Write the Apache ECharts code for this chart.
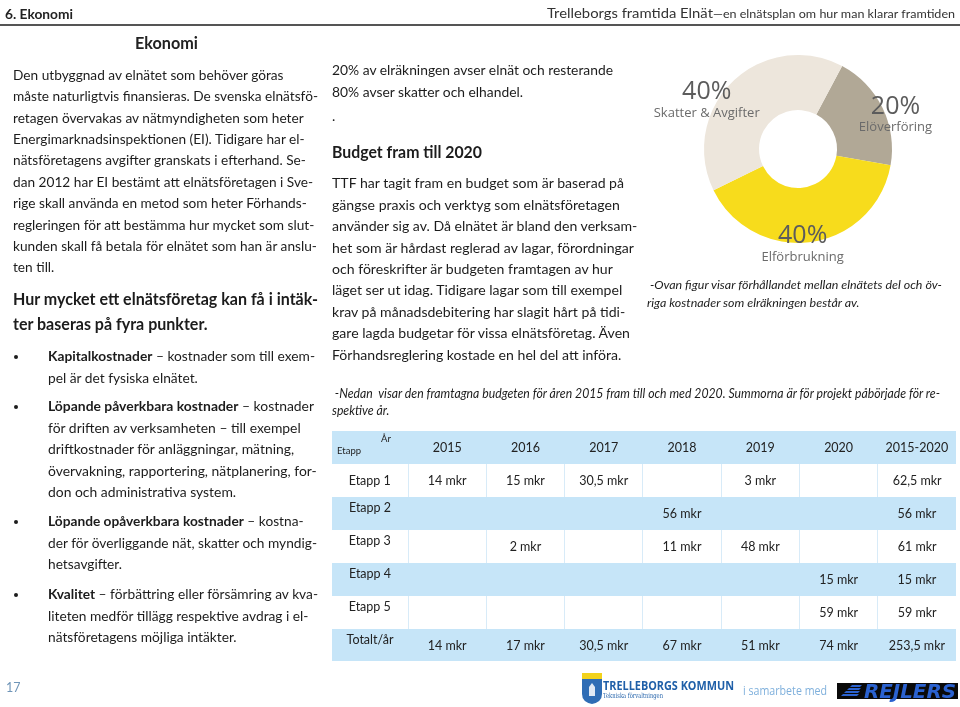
<!DOCTYPE html>
<html><head><meta charset="utf-8">
<script src="https://cdn.jsdelivr.net/npm/echarts@6/dist/echarts.min.js"></script>
<style>
html,body{margin:0;padding:0;background:#fff;}
#page{position:relative;width:960px;height:707px;overflow:hidden;font-family:Lato,'Noto Sans',sans-serif;color:#1c1c1c;}
#chart{position:absolute;left:0;top:0;width:960px;height:707px;}
.t{position:absolute;white-space:nowrap;transform-origin:0 0;}
.t span.l{display:inline-block;white-space:pre;}
.body{font-size:14px;line-height:21.4px;}
.h2{font-size:16.8px;line-height:24.5px;font-weight:bold;}
.it{font-style:italic;font-size:12.5px;line-height:17px;}
.dot{position:absolute;width:4px;height:4px;border-radius:50%;background:#1c1c1c;}
#tbl{position:absolute;left:332px;top:431px;border-collapse:collapse;table-layout:fixed;font-size:12.5px;color:#222;}
#tbl td{padding:0;text-align:center;vertical-align:middle;overflow:visible;white-space:nowrap;}
#tbl tr.b td{background:#c6e5f8;}
#tbl tr.w td{background:#fff;border-left:1px solid #d8ebf8;}
#tbl tr.w td:first-child{border-left:none;}
#tbl td.lab{vertical-align:top;padding-top:3px;}
</style></head>
<body><div id="page">
<div id="chart"></div>

<div class="t" style="left:5px;top:5px;font-size:14px;line-height:18px;font-weight:bold;color:#222" data-fit="0,68"><div><span class="l">6. Ekonomi</span></div></div>
<div class="t" style="left:547px;top:4px;font-size:13px;line-height:18px;color:#333" data-fit="0,408"><div><span class="l">Trelleborgs framtida Elnät<span style="font-size:11px">—en elnätsplan om hur man klarar framtiden</span></span></div></div>
<div style="position:absolute;left:0;top:24px;width:960px;height:2px;background:#555"></div>
<div class="t" style="left:135px;top:32px;font-size:17px;line-height:22px;font-weight:bold;color:#222" data-fit="0,63"><div><span class="l">Ekonomi</span></div></div>

<div class="t body" style="left:13px;top:63.8px" data-fit="1,305"><div><span class="l">Den utbyggnad av elnätet som behöver göras</span></div><div><span class="l">måste naturligtvis finansieras. De svenska elnätsfö-</span></div><div><span class="l">retagen övervakas av nätmyndigheten som heter</span></div><div><span class="l">Energimarknadsinspektionen (EI). Tidigare har el-</span></div><div><span class="l">nätsföretagens avgifter granskats i efterhand. Se-</span></div><div><span class="l">dan 2012 har EI bestämt att elnätsföretagen i Sve-</span></div><div><span class="l">rige skall använda en metod som heter Förhands-</span></div><div><span class="l">regleringen för att bestämma hur mycket som slut-</span></div><div><span class="l">kunden skall få betala för elnätet som han är anslu-</span></div><div><span class="l">ten till.</span></div></div>

<div class="t h2" style="left:13px;top:287px" data-fit="0,305"><div><span class="l">Hur mycket ett elnätsföretag kan få i intäk-</span></div><div><span class="l">ter baseras på fyra punkter.</span></div></div>

<div class="dot" style="left:14px;top:355px"></div>
<div class="t body" style="left:48px;top:345.3px" data-fit="0,267"><div><span class="l"><b>Kapitalkostnader</b> – kostnader som till exem-</span></div><div><span class="l">pel är det fysiska elnätet.</span></div></div>
<div class="dot" style="left:14px;top:405px"></div>
<div class="t body" style="left:48px;top:395.3px" data-fit="0,266"><div><span class="l"><b>Löpande påverkbara kostnader</b> – kostnader</span></div><div><span class="l">för driften av verksamheten – till exempel</span></div><div><span class="l">driftkostnader för anläggningar, mätning,</span></div><div><span class="l">övervakning, rapportering, nätplanering, for-</span></div><div><span class="l">don och administrativa system.</span></div></div>
<div class="dot" style="left:14px;top:520px"></div>
<div class="t body" style="left:48px;top:510.3px" data-fit="1,269"><div><span class="l"><b>Löpande opåverkbara kostnader</b> – kostna-</span></div><div><span class="l">der för överliggande nät, skatter och myndig-</span></div><div><span class="l">hetsavgifter.</span></div></div>
<div class="dot" style="left:14px;top:593px"></div>
<div class="t body" style="left:48px;top:583.3px" data-fit="0,270"><div><span class="l"><b>Kvalitet</b> – förbättring eller försämring av kva-</span></div><div><span class="l">liteten medför tillägg respektive avdrag i el-</span></div><div><span class="l">nätsföretagens möjliga intäkter.</span></div></div>

<div class="t body" style="left:332px;top:59.3px" data-fit="0,281"><div><span class="l">20% av elräkningen avser elnät och resterande</span></div><div><span class="l">80% avser skatter och elhandel.</span></div></div>
<div class="t body" style="left:332px;top:105px"><div><span class="l">.</span></div></div>
<div class="t h2" style="left:332px;top:139.5px" data-fit="0,150"><div><span class="l">Budget fram till 2020</span></div></div>
<div class="t body" style="left:332px;top:172.3px" data-fit="3,302"><div><span class="l">TTF har tagit fram en budget som är baserad på</span></div><div><span class="l">gängse praxis och verktyg som elnätsföretagen</span></div><div><span class="l">använder sig av. Då elnätet är bland den verksam-</span></div><div><span class="l">het som är hårdast reglerad av lagar, förordningar</span></div><div><span class="l">och föreskrifter är budgeten framtagen av hur</span></div><div><span class="l">läget ser ut idag. Tidigare lagar som till exempel</span></div><div><span class="l">krav på månadsdebitering har slagit hårt på tidi-</span></div><div><span class="l">gare lagda budgetar för vissa elnätsföretag. Även</span></div><div><span class="l">Förhandsreglering kostade en hel del att införa.</span></div></div>

<div class="t it" style="left:332px;top:384.5px" data-fit="0,608"><div><span class="l"> -Nedan  visar den framtagna budgeten för åren 2015 fram till och med 2020. Summorna är för projekt påbörjade för re-</span></div><div><span class="l">spektive år.</span></div></div>
<div class="t it" style="left:647px;top:276px;font-size:12.2px;line-height:18px" data-fit="0,295"><div><span class="l"> -Ovan figur visar förhållandet mellan elnätets del och öv-</span></div><div><span class="l">riga kostnader som elräkningen består av.</span></div></div>

<table id="tbl"></table>

<div class="t" style="left:6px;top:680px;font-size:12.5px;line-height:16px;color:#6f95b8"><div><span class="l">17</span></div></div>

<svg style="position:absolute;left:581px;top:672px" width="22" height="33" viewBox="0 0 22 33">
<rect x="1" y="1" width="20" height="6" fill="#f2d21c"/>
<path d="M1 7 H21 V22 Q21 30 11 32 Q1 30 1 22 Z" fill="#2f6db5"/>
<path d="M8 24 V15 L11 11 L14 15 V24 Z" fill="#ffffff" opacity="0.85"/>
</svg>
<div class="t" style="left:603px;top:678px;font-size:12.5px;line-height:16px;font-weight:bold;color:#1f5fa8;font-family:'Open Sans',sans-serif" data-fit="0,131"><div><span class="l">TRELLEBORGS KOMMUN</span></div></div>
<div class="t" style="left:603px;top:692px;font-size:7px;line-height:9px;color:#1f5fa8;font-family:'DejaVu Serif',serif" data-fit="0,60"><div><span class="l">Tekniska förvaltningen</span></div></div>
<div class="t" style="left:743px;top:683px;font-size:12.5px;line-height:16px;color:#7fb0dc;font-family:'Open Sans',sans-serif" data-fit="0,84"><div><span class="l">i samarbete med</span></div></div>
<div style="position:absolute;left:837px;top:683px;width:121px;height:16px;background:#0a0a0a"></div>
<svg style="position:absolute;left:840px;top:684px" width="24" height="14"><g fill="#2b62d0"><polygon points="12,1 22,1 20,3 10,3"/><polygon points="9,4 21,4 19,6 7,6"/><polygon points="6,7 20,7 18,9 4,9"/><polygon points="3,10 19,10 17,12 1,12"/></g></svg>
<div class="t" style="left:864px;top:681px;font-size:19px;line-height:20px;font-weight:bold;font-style:italic;color:#2b62d0;font-family:'DejaVu Sans',sans-serif" data-fit="0,92"><div><span class="l">REJLERS</span></div></div>
</div>

<script>
// ---- Pie data ----
const pieNames = ['Elöverföring', 'Elförbrukning', 'Skatter & Avgifter'];
const pieValues = [20, 40, 40];
const pieColors = ['#b1a896', '#f7dc1c', '#ede6dc'];

// ---- Table data ----
const tableYears = ['2015', '2016', '2017', '2018', '2019', '2020', '2015-2020'];
const rowLabels = ['Etapp 1', 'Etapp 2', 'Etapp 3', 'Etapp 4', 'Etapp 5', 'Totalt/år'];
const etapp1 = ['14 mkr', '15 mkr', '30,5 mkr', '', '3 mkr', '', '62,5 mkr'];
const etapp2 = ['', '', '', '56 mkr', '', '', '56 mkr'];
const etapp3 = ['', '2 mkr', '', '11 mkr', '48 mkr', '', '61 mkr'];
const etapp4 = ['', '', '', '', '', '15 mkr', '15 mkr'];
const etapp5 = ['', '', '', '', '', '59 mkr', '59 mkr'];
const totalt = ['14 mkr', '17 mkr', '30,5 mkr', '67 mkr', '51 mkr', '74 mkr', '253,5 mkr'];

// build table
(function(){
  const rows = [etapp1, etapp2, etapp3, etapp4, etapp5, totalt];
  const t = document.getElementById('tbl');
  let html = '<colgroup><col style="width:76px">';
  tableYears.forEach(()=>{ html += '<col style="width:78.3px">'; });
  html += '</colgroup>';
  html += '<tr class="b" style="height:33px"><td style="position:relative"><span style="position:absolute;left:49px;top:2px;font-size:9.5px">År</span><span style="position:absolute;left:5px;top:14px;font-size:9.5px">Etapp</span></td>';
  tableYears.forEach(y=>{ html += '<td>'+y+'</td>'; });
  html += '</tr>';
  rows.forEach((r,i)=>{
    const cls = (i % 2 === 0) ? 'w' : 'b';
    const h = i === rows.length-1 ? 32 : 33;
    html += '<tr class="'+cls+'" style="height:'+h+'px"><td class="'+(i===0?'':'lab')+'">'+rowLabels[i]+'</td>';
    r.forEach(v=>{ html += '<td>'+v+'</td>'; });
    html += '</tr>';
  });
  t.innerHTML = html;
})();

// ---- Pie chart ----
const chart = echarts.init(document.getElementById('chart'), null, {renderer:'canvas'});
const labelShift = [[35, -3], [-5, 27], [-43, 2]];
chart.setOption({
  animation: false,
  series: [{
    type: 'pie',
    center: [798, 149],
    radius: [39, 94],
    startAngle: 62,
    clockwise: true,
    silent: true,
    itemStyle: { borderWidth: 0 },
    label: {
      show: true,
      position: 'inside',
      formatter: '{p|{c}%}\n{n|{b}}',
      rich: {
        p: { fontSize: 25, color: '#5c5c5c', fontFamily: 'Open Sans', lineHeight: 24, align: 'center' },
        n: { fontSize: 13, color: '#6b6b6b', fontFamily: 'Open Sans', lineHeight: 18, align: 'center' }
      }
    },
    labelLine: { show: false },
    labelLayout: function (p) {
      const s = labelShift[p.dataIndex];
      return { dx: s[0], dy: s[1] };
    },
    data: pieNames.map((n, i) => ({ name: n, value: pieValues[i], itemStyle: { color: pieColors[i] } }))
  }]
});

// ---- fit text blocks horizontally ----
function fit(){
  document.querySelectorAll('[data-fit]').forEach(el=>{
    el.style.transform = '';
    const parts = el.dataset.fit.split(',').map(Number);
    const line = el.querySelectorAll('span.l')[parts[0]];
    const w = line.getBoundingClientRect().width;
    if (w > 0) el.style.transform = 'scaleX(' + (parts[1] / w) + ')';
  });
}
fit();
if (document.fonts && document.fonts.ready) document.fonts.ready.then(fit);
</script>
</body></html>
